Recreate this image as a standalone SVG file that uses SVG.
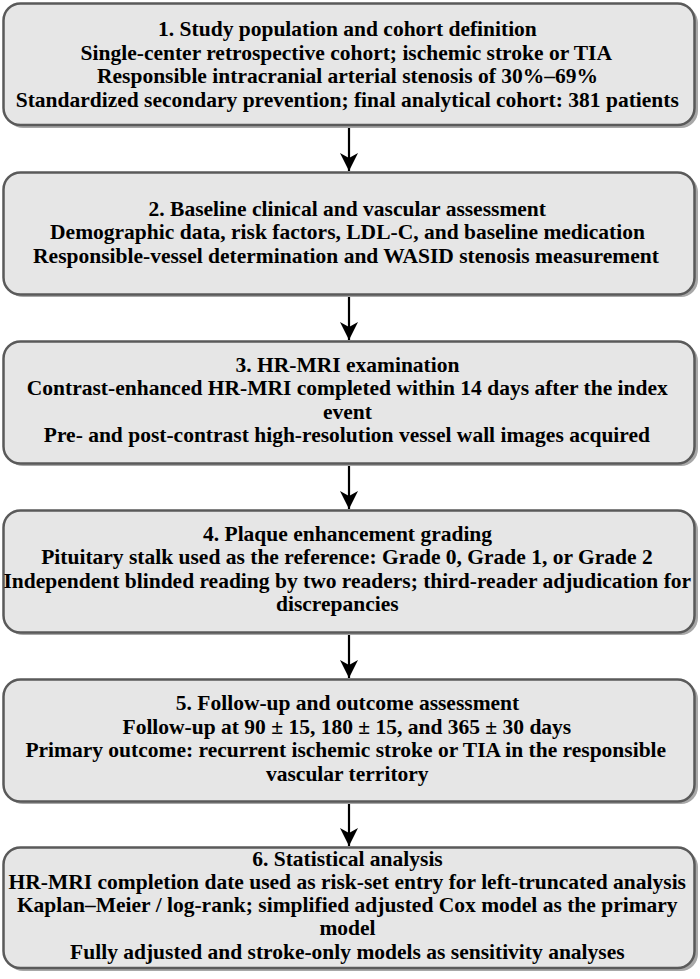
<svg xmlns="http://www.w3.org/2000/svg" width="700" height="979" viewBox="0 0 700 979">
<defs>
<style>
.box{fill:#e6e6e6;stroke:#5a5a5a;stroke-width:2.5}
.sh{fill:#a8a8a8}
.c{stroke:#000;stroke-width:2.2;fill:none}
</style>
<marker id="ah" markerWidth="18" markerHeight="18" viewBox="0 0 18 18" refX="18" refY="9" orient="auto" markerUnits="userSpaceOnUse">
<path d="M0,0 L18,9 L0,18 L5,9 Z" fill="#000"/>
</marker>
</defs>
<rect width="700" height="979" fill="#fff"/>
<g id="connectors">
<line class="c" x1="349" y1="125" x2="349" y2="171" marker-end="url(#ah)"/>
<line class="c" x1="349" y1="295" x2="349" y2="340" marker-end="url(#ah)"/>
<line class="c" x1="349" y1="464" x2="349" y2="509" marker-end="url(#ah)"/>
<line class="c" x1="349" y1="633" x2="349" y2="678" marker-end="url(#ah)"/>
<line class="c" x1="349" y1="802" x2="349" y2="846" marker-end="url(#ah)"/>
</g>
<g id="n1">
<rect class="sh" x="6" y="6" width="692" height="122" rx="17"/>
<rect class="box" x="3.5" y="3.5" width="691" height="121.5" rx="17"/>
<text x="158.1" y="36" font-family="'Liberation Serif', serif" font-size="21.5" font-weight="bold">1. Study population and cohort definition</text>
<text x="80.6" y="59.5" font-family="'Liberation Serif', serif" font-size="21.5" font-weight="bold">Single-center retrospective cohort; ischemic stroke or TIA</text>
<text x="97" y="83" font-family="'Liberation Serif', serif" font-size="21.5" font-weight="bold">Responsible intracranial arterial stenosis of 30%&#8211;69%</text>
<text x="15.7" y="106.5" font-family="'Liberation Serif', serif" font-size="21.5" font-weight="bold">Standardized secondary prevention; final analytical cohort: 381 patients</text>
</g>
<g id="n2">
<rect class="sh" x="6" y="175" width="692" height="122" rx="17"/>
<rect class="box" x="3.5" y="172.5" width="691" height="122" rx="17"/>
<text x="148.6" y="215.5" font-family="'Liberation Serif', serif" font-size="21.5" font-weight="bold">2. Baseline clinical and vascular assessment</text>
<text x="50.1" y="239" font-family="'Liberation Serif', serif" font-size="21.5" font-weight="bold">Demographic data, risk factors, LDL-C, and baseline medication</text>
<text x="33.1" y="262.5" font-family="'Liberation Serif', serif" font-size="21.5" font-weight="bold">Responsible-vessel determination and WASID stenosis measurement</text>
</g>
<g id="n3">
<rect class="sh" x="6" y="344" width="692" height="122" rx="17"/>
<rect class="box" x="3.5" y="341.5" width="691" height="122" rx="17"/>
<text x="235.5" y="371.5" font-family="'Liberation Serif', serif" font-size="21.5" font-weight="bold">3. HR-MRI examination</text>
<text x="26.8" y="395" font-family="'Liberation Serif', serif" font-size="21.5" font-weight="bold">Contrast-enhanced HR-MRI completed within 14 days after the index</text>
<text x="323" y="418.5" font-family="'Liberation Serif', serif" font-size="21.5" font-weight="bold">event</text>
<text x="43.8" y="442" font-family="'Liberation Serif', serif" font-size="21.5" font-weight="bold">Pre- and post-contrast high-resolution vessel wall images acquired</text>
</g>
<g id="n4">
<rect class="sh" x="6" y="513" width="692" height="122" rx="17"/>
<rect class="box" x="3.5" y="510.5" width="691" height="122" rx="17"/>
<text x="203" y="540.75" font-family="'Liberation Serif', serif" font-size="21.5" font-weight="bold">4. Plaque enhancement grading</text>
<text x="41.2" y="564.25" font-family="'Liberation Serif', serif" font-size="21.5" font-weight="bold">Pituitary stalk used as the reference: Grade 0, Grade 1, or Grade 2</text>
<text x="3.5" y="587.75" font-family="'Liberation Serif', serif" font-size="21.5" font-weight="bold">Independent blinded reading by two readers; third-reader adjudication for</text>
<text x="276" y="611.25" font-family="'Liberation Serif', serif" font-size="21.5" font-weight="bold">discrepancies</text>
</g>
<g id="n5">
<rect class="sh" x="6" y="682" width="692" height="122" rx="17"/>
<rect class="box" x="3.5" y="679.5" width="691" height="122" rx="17"/>
<text x="175.8" y="710.25" font-family="'Liberation Serif', serif" font-size="21.5" font-weight="bold">5. Follow-up and outcome assessment</text>
<text x="122.5" y="733.75" font-family="'Liberation Serif', serif" font-size="21.5" font-weight="bold">Follow-up at 90 &#177; 15, 180 &#177; 15, and 365 &#177; 30 days</text>
<text x="25.4" y="757.25" font-family="'Liberation Serif', serif" font-size="21.5" font-weight="bold">Primary outcome: recurrent ischemic stroke or TIA in the responsible</text>
<text x="266" y="780.75" font-family="'Liberation Serif', serif" font-size="21.5" font-weight="bold">vascular territory</text>
</g>
<g id="n6">
<rect class="sh" x="6" y="850" width="692" height="121" rx="17"/>
<rect class="box" x="3.5" y="847.5" width="691" height="120.5" rx="17"/>
<text x="252.2" y="865.5" font-family="'Liberation Serif', serif" font-size="21.5" font-weight="bold">6. Statistical analysis</text>
<text x="8.6" y="888.75" font-family="'Liberation Serif', serif" font-size="21.5" font-weight="bold">HR-MRI completion date used as risk-set entry for left-truncated analysis</text>
<text x="16.9" y="912" font-family="'Liberation Serif', serif" font-size="21.5" font-weight="bold">Kaplan&#8211;Meier / log-rank; simplified adjusted Cox model as the primary</text>
<text x="319.4" y="935.25" font-family="'Liberation Serif', serif" font-size="21.5" font-weight="bold">model</text>
<text x="70.1" y="958.5" font-family="'Liberation Serif', serif" font-size="21.5" font-weight="bold">Fully adjusted and stroke-only models as sensitivity analyses</text>
</g>
</svg>
